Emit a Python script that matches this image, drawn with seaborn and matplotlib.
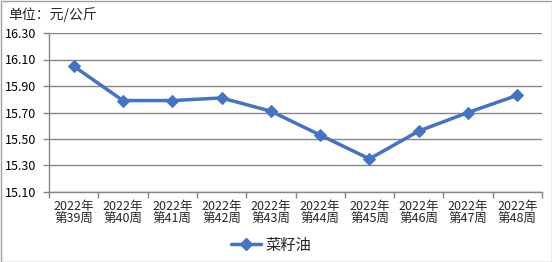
import matplotlib
matplotlib.use("Agg")
import matplotlib.pyplot as plt
import seaborn as sns
import pandas as pd
from matplotlib.patches import Rectangle
from matplotlib.lines import Line2D

weeks = ["2022年\n第39周", "2022年\n第40周", "2022年\n第41周", "2022年\n第42周", "2022年\n第43周",
         "2022年\n第44周", "2022年\n第45周", "2022年\n第46周", "2022年\n第47周", "2022年\n第48周"]
prices = [16.05, 15.79, 15.79, 15.81, 15.71, 15.53, 15.35, 15.56, 15.70, 15.83]
series_name = "菜籽油"
yticks = [15.10, 15.30, 15.50, 15.70, 15.90, 16.10, 16.30]

sns.set_theme(style="white")
plt.rcParams['font.family'] = ['Noto Sans CJK SC', 'DejaVu Sans']

df = pd.DataFrame({"x": range(len(weeks)), "price": prices, "series": series_name})

fig = plt.figure(figsize=(5.52, 2.62), dpi=100)
ax = fig.add_axes([49/552, 1-192/262, (542-49)/552, (192-33)/262])

color = "#4472C4"
grid_c = "#868686"

for y in yticks:
    ax.axhline(y, color=grid_c, lw=1, zorder=0)

sns.lineplot(data=df, x="x", y="price", hue="series", palette=[color], ax=ax,
             marker="D", markersize=6.5, linewidth=2.5, markeredgecolor=color, legend=False)

ax.set_xlim(-0.5, len(weeks)-0.5)
ax.set_ylim(15.10, 16.30)
ax.set_yticks(yticks)
ax.set_yticklabels([f"{v:.2f}" for v in yticks], fontsize=9, color="#000000")
ax.set_xticks(range(len(weeks)))
ax.set_xticklabels(weeks, fontsize=9, linespacing=0.95)
ax.set_xticks([i-0.5 for i in range(len(weeks)+1)], minor=True)
ax.tick_params(axis="x", which="major", length=0, pad=6)
ax.tick_params(axis="x", which="minor", length=4, color=grid_c, width=1, direction="out", bottom=True)
ax.tick_params(axis="y", length=4, color=grid_c, width=1, direction="out", left=True, pad=5)
ax.set_xlabel("")
ax.set_ylabel("")
for s in ["top", "right"]:
    ax.spines[s].set_visible(False)
for s in ["left", "bottom"]:
    ax.spines[s].set_color(grid_c)
    ax.spines[s].set_linewidth(1)

fig.text(8/552, 1-15/262, "单位：元/公斤", fontsize=10, va="center", ha="left")

h = Line2D([], [], color=color, lw=2.5, marker="D", markersize=6.5)
fig.legend([h], [series_name], loc="center", bbox_to_anchor=(271/552, 1-245/262),
           frameon=False, fontsize=11, handlelength=2.0, handletextpad=0.3)

fig.patches.append(Rectangle((0.5/552, 0.5/262), 1-1/552, 1-1/262, transform=fig.transFigure,
                             fill=False, edgecolor="#A0A0A0", lw=1))

fig.savefig("out.png", dpi=100)
